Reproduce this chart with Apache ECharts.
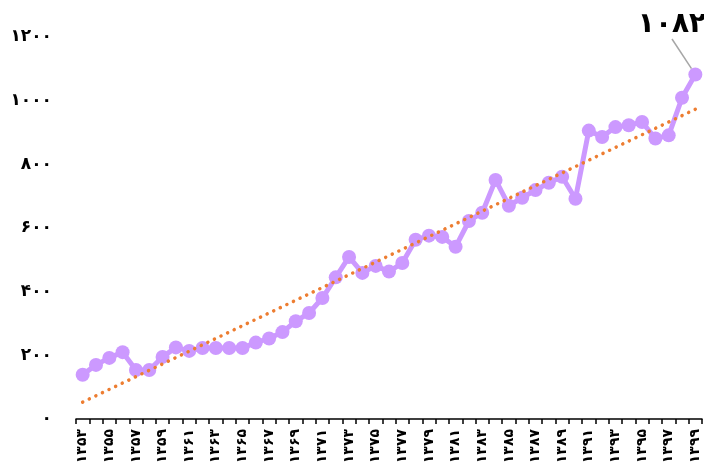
<!DOCTYPE html>
<html>
<head>
<meta charset="utf-8">
<script src="https://cdn.jsdelivr.net/npm/echarts@6/dist/echarts.min.js"></script>
<style>
  html, body { margin: 0; padding: 0; background: #fff; }
  #chart { width: 704px; height: 471px; }
</style>
</head>
<body>
<div id="chart"></div>
<script>
// سال‌ها ۱۳۵۳ تا ۱۳۹۹
const years = [
  1353, 1354, 1355, 1356, 1357, 1358, 1359, 1360, 1361, 1362,
  1363, 1364, 1365, 1366, 1367, 1368, 1369, 1370, 1371, 1372,
  1373, 1374, 1375, 1376, 1377, 1378, 1379, 1380, 1381, 1382,
  1383, 1384, 1385, 1386, 1387, 1388, 1389, 1390, 1391, 1392,
  1393, 1394, 1395, 1396, 1397, 1398, 1399
]
const values = [
  139, 170, 192, 210, 154, 154, 195, 225, 214, 223,
  223, 223, 223, 240, 253, 273, 307, 333, 380, 445,
  509, 459, 481, 463, 490, 563, 576, 572, 541, 622,
  648, 751, 670, 695, 719, 742, 761, 692, 906, 886,
  917, 923, 933, 881, 891, 1009, 1082
]
// خط روند (نقاط ابتدا و انتها)
const trendStart = 53
const trendEnd = 973
const yTicks = [0, 200, 400, 600, 800, 1000, 1200]

const faDigits = '۰۱۲۳۴۵۶۷۸۹'
function toFa(v) {
  return String(v).replace(/\d/g, d => faDigits[+d])
}

const chart = echarts.init(document.getElementById('chart'))
const last = values.length - 1

chart.setOption({
  animation: false,
  backgroundColor: '#fff',
  grid: {
    left: 76,
    right: 2,
    top: 37,
    bottom: 52,
    containLabel: false
  },
  xAxis: {
    type: 'category',
    boundaryGap: true,
    data: years.map(toFa),
    axisLine: {
      lineStyle: { color: '#000', width: 1.5 }
    },
    axisTick: {
      show: true,
      interval: 0,
      length: 5,
      lineStyle: { color: '#000', width: 1.5 }
    },
    axisLabel: {
      interval: 1,
      rotate: 90,
      margin: 10,
      color: '#000',
      fontWeight: 'bold',
      fontSize: 14,
      fontFamily: 'DejaVu Sans'
    }
  },
  yAxis: {
    type: 'value',
    min: yTicks[0],
    max: yTicks[yTicks.length - 1],
    interval: 200,
    axisLine: { show: false },
    axisTick: { show: false },
    splitLine: { show: false },
    axisLabel: {
      margin: 24,
      color: '#000',
      fontWeight: 'bold',
      fontSize: 17,
      fontFamily: 'DejaVu Sans',
      formatter: v => toFa(v)
    }
  },
  series: [
    {
      type: 'line',
      data: [[0, trendStart], [last, trendEnd]],
      symbol: 'none',
      z: 3,
      lineStyle: {
        color: '#ED7D31',
        width: 3.5,
        type: [0.1, 7.2],
        cap: 'round'
      }
    },
    {
      type: 'line',
      data: values.map((v, i) => i === last ? {
        value: v,
        label: {
          show: true,
          formatter: p => toFa(p.value),
          color: '#000',
          fontWeight: 'bold',
          fontSize: 28,
          fontFamily: 'DejaVu Sans'
        }
      } : v),
      symbol: 'circle',
      symbolSize: 14,
      showSymbol: true,
      showAllSymbol: true,
      z: 2,
      itemStyle: { color: '#CC99FF' },
      lineStyle: { color: '#CC99FF', width: 5 },
      labelLayout: params => params.dataIndex === last ? {
        x: 672, y: 25, align: 'center', verticalAlign: 'middle'
      } : {},
      labelLine: {
        show: true,
        lineStyle: { color: '#A6A6A6', width: 1.5 }
      }
    }
  ]
})
</script>
</body>
</html>
